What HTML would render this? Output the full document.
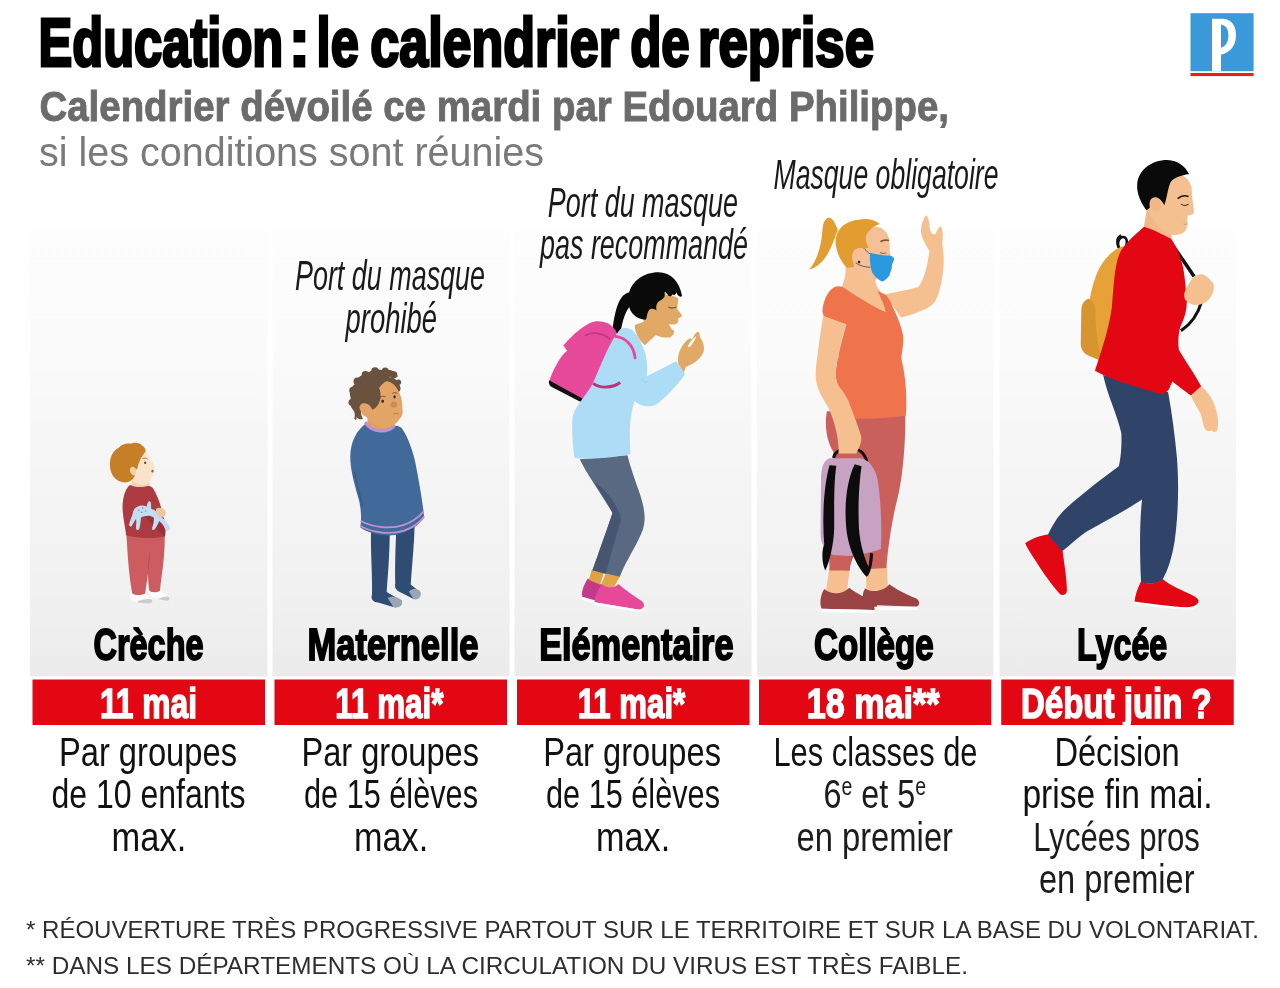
<!DOCTYPE html>
<html lang="fr"><head><meta charset="utf-8"><title>Education : le calendrier de reprise</title>
<style>
html,body{margin:0;padding:0;background:#fff;}
body{width:1280px;height:988px;overflow:hidden;font-family:"Liberation Sans",sans-serif;}
svg{display:block;position:absolute;left:0;top:0;}
text{font-family:"Liberation Sans",sans-serif;white-space:pre;}
</style></head><body>
<svg width="1280" height="988" viewBox="0 0 1280 988" style="will-change:transform">
<defs>
<linearGradient id="cg" x1="0" y1="0" x2="0" y2="1">
<stop offset="0" stop-color="#fdfdfd"/><stop offset="0.25" stop-color="#fbfbfb"/><stop offset="0.5" stop-color="#f6f6f6"/><stop offset="0.85" stop-color="#f0f0f0"/><stop offset="1" stop-color="#ebebeb"/>
</linearGradient>
</defs>
<rect width="1280" height="988" fill="#fff"/>

<rect x="30" y="229" width="237.5" height="447.5" fill="url(#cg)"/>
<rect x="272.5" y="229" width="237.0" height="447.5" fill="url(#cg)"/>
<rect x="514.5" y="229" width="237.0" height="447.5" fill="url(#cg)"/>
<rect x="757" y="229" width="236.5" height="447.5" fill="url(#cg)"/>
<rect x="999.5" y="229" width="236.5" height="447.5" fill="url(#cg)"/>
<rect x="32.5" y="679.5" width="232.5" height="45.5" fill="#e30613"/>
<rect x="274.5" y="679.5" width="232.5" height="45.5" fill="#e30613"/>
<rect x="517" y="679.5" width="232.5" height="45.5" fill="#e30613"/>
<rect x="759" y="679.5" width="232.25" height="45.5" fill="#e30613"/>
<rect x="1001.25" y="679.5" width="232.5" height="45.5" fill="#e30613"/>
<g id="logo">
<rect x="1190.5" y="13.2" width="63.1" height="58" fill="#3a9ad9"/>
<rect x="1190.5" y="73" width="63.1" height="3.1" fill="#e2231a"/>
<path d="M1212 71.2 V18.7 H1222 C1231 18.7 1236 25 1236 35 C1236 46 1230 52.5 1221 54.8 V71.2 Z M1221 24.6 V47.8 C1226 46 1228.4 41.5 1228.4 35.5 C1228.4 29.5 1226 25.5 1221 24.6 Z" fill="#fff" fill-rule="evenodd"/>
</g>
<g id="fig1" transform="translate(90,430) scale(0.18215)">
<!-- socks -->
<path d="M225,890 C212,912 218,938 248,946 L322,952 C350,950 348,932 330,922 L298,892 Z" fill="#fbfbfc"/>
<path d="M262,940 C290,930 320,925 338,930 C348,942 340,952 322,952 L262,948 Z" fill="#c9ccd1"/>
<path d="M322,880 C316,902 330,918 352,924 L418,938 C442,936 442,920 426,910 L384,878 Z" fill="#fcfcfd"/>
<path d="M372,928 C395,915 420,910 432,916 C442,926 436,938 418,938 Z" fill="#c9ccd1"/>
<!-- pants -->
<path d="M200,572 C205,660 212,790 232,898 C255,910 285,908 302,898 C308,860 314,820 318,790 C320,830 322,860 326,884 C345,894 368,892 384,882 C392,800 412,700 410,585 Z" fill="#cd5c60"/>
<path d="M318,790 C316,740 322,700 330,660 C328,720 322,760 318,790 Z" fill="#b84a50"/>
<!-- shirt -->
<path d="M215,305 C190,330 174,390 180,450 C184,500 196,545 198,578 C260,596 350,596 412,584 C420,540 412,500 400,470 C392,420 372,360 345,318 C320,296 250,292 215,305 Z" fill="#ad3941"/>
<path d="M300,470 C340,475 380,500 405,530 C412,555 412,570 410,584 C380,560 340,520 300,470 Z" fill="#9b3038"/>
<!-- neck/face -->
<path d="M232,262 L228,306 C260,318 305,315 330,300 L318,268 Z" fill="#f3d3b4"/>
<path d="M262,118 C295,100 322,128 334,168 L354,196 C360,208 352,216 345,218 C354,236 346,252 336,262 C336,284 318,298 296,300 C262,300 228,285 220,245 C214,200 235,140 262,118 Z" fill="#fae3cb"/>
<!-- hair -->
<path d="M222,76 C200,68 172,80 158,97 C130,108 106,150 110,192 C108,242 142,288 192,288 C222,288 240,268 246,250 L250,214 C254,218 258,216 260,212 C262,196 268,182 274,168 C282,148 292,132 306,116 C304,100 296,90 287,86 C272,70 245,66 222,76 Z" fill="#c67f26"/>
<path d="M222,208 C214,226 224,246 246,250 C254,236 254,220 250,212 C244,200 230,198 222,208 Z" fill="#f0cfae"/>
<!-- face details -->
<path d="M288,158 C298,152 310,154 316,160" stroke="#a86a2a" stroke-width="5" fill="none"/>
<ellipse cx="303" cy="180" rx="6" ry="7" fill="#3b4a5a"/>
<ellipse cx="343" cy="226" rx="6" ry="8" fill="#b5474c"/>
<!-- toy -->
<path d="M235,455 C240,420 280,405 312,420 C312,400 322,388 330,392 C338,398 334,418 336,432 C360,440 378,455 390,478 C410,490 432,515 440,540 C440,556 422,558 414,546 C405,525 392,508 380,500 C372,520 362,540 352,548 C340,552 338,540 344,528 C350,510 352,495 350,480 C330,465 300,470 280,480 C278,500 276,525 270,545 C262,552 252,548 252,536 C254,515 256,498 252,488 C244,500 236,515 228,528 C218,534 212,524 216,512 C222,492 230,475 235,455 Z" fill="#c3ddf2"/>
<circle cx="268" cy="440" r="4" fill="#5b86b5"/><circle cx="290" cy="428" r="4" fill="#5b86b5"/><circle cx="284" cy="452" r="4" fill="#5b86b5"/><circle cx="305" cy="445" r="3.5" fill="#5b86b5"/>
<!-- hand -->
<path d="M362,432 C380,420 405,428 414,446 C420,464 408,482 392,480 C376,478 360,462 362,432 Z" fill="#eec3a0"/>
</g>

<g id="fig2" transform="translate(330,360) scale(0.25316)">
<!-- legs -->
<path d="M162,675 C160,760 168,850 166,930 C176,946 200,950 222,940 C228,860 236,760 236,680 Z" fill="#2f4c73"/>
<path d="M262,670 C258,750 256,830 258,890 C272,910 300,915 318,905 C322,830 332,740 334,660 Z" fill="#2f4c73"/>
<path d="M166,925 C160,945 170,955 190,958 L250,976 C275,980 290,965 282,950 L222,915 Z" fill="#2f4c73"/>
<path d="M228,940 C245,930 270,935 284,950 C290,968 272,982 250,976 Z" fill="#9aa6b3"/>
<path d="M258,885 C254,900 262,912 280,918 L330,944 C350,948 362,930 355,915 L316,885 Z" fill="#2f4c73"/>
<path d="M312,915 C325,900 345,900 356,914 C364,932 350,950 330,944 Z" fill="#9aa6b3"/>
<!-- neck -->
<path d="M150,215 L146,262 C180,285 225,285 252,266 L262,235 Z" fill="#dfa062"/>
<!-- sweater -->
<path d="M140,252 C105,280 82,320 80,380 C80,440 100,500 116,560 C124,600 124,630 120,662 C160,690 220,698 262,690 C310,680 350,655 372,622 C366,560 352,480 336,400 C322,340 300,290 282,268 C270,258 258,258 250,262 C222,282 170,280 140,252 Z" fill="#41699a"/>
<path d="M96,440 C104,480 118,530 128,580" stroke="#355a86" stroke-width="5" fill="none"/>
<!-- stripes -->
<path d="M121,636 C170,662 240,668 290,652 C325,640 352,620 370,598" stroke="#c58fd2" stroke-width="7" fill="none"/>
<path d="M120,656 C170,684 240,690 292,674 C328,662 354,642 372,618" stroke="#c58fd2" stroke-width="7" fill="none"/>
<!-- collar -->
<path d="M142,250 C165,285 225,290 252,262" stroke="#bf8fd0" stroke-width="13" fill="none" stroke-linecap="round"/>
<!-- face -->
<path d="M215,76 C245,78 268,100 274,128 C282,148 288,170 286,196 C290,210 284,226 272,236 C262,256 235,268 205,262 C170,255 145,235 135,205 C130,160 160,90 215,76 Z" fill="#e2a565"/>
<ellipse cx="252" cy="176" rx="13" ry="12" fill="#c88d5a"/>
<!-- hair -->
<path d="M218,76 C235,60 262,70 272,95 C282,110 280,120 272,126 C262,100 240,84 222,84 C205,95 190,110 186,130 C178,150 180,170 176,186 C160,180 140,178 128,190 C120,205 122,220 130,232 C120,238 108,232 104,222 C108,236 102,240 96,232 C100,215 98,205 92,198 C80,185 76,165 82,150 C74,130 82,108 96,98 C100,75 120,58 142,56 C160,38 190,32 212,42 C235,32 262,45 268,66 C258,62 235,62 218,76 Z" fill="#6b523f"/>
<circle cx="90" cy="120" r="14" fill="#6b523f"/><circle cx="86" cy="168" r="13" fill="#6b523f"/><circle cx="108" cy="84" r="15" fill="#6b523f"/><circle cx="140" cy="58" r="15" fill="#6b523f"/><circle cx="178" cy="44" r="15" fill="#6b523f"/><circle cx="218" cy="44" r="14" fill="#6b523f"/><circle cx="252" cy="58" r="14" fill="#6b523f"/><circle cx="270" cy="88" r="11" fill="#6b523f"/>
<ellipse cx="150" cy="140" rx="50" ry="60" fill="#6b523f"/>
<path d="M186,110 C172,130 180,150 170,170 C182,160 190,140 186,110 Z" fill="#6b523f"/>
<!-- ear -->
<path d="M118,195 C112,180 125,168 142,172 C158,176 168,190 172,215 C160,228 140,228 128,215 Z" fill="#e2a565"/>
<!-- eyes -->
<ellipse cx="208" cy="163" rx="5" ry="7" fill="#2a2a38"/>
<ellipse cx="255" cy="146" rx="4.5" ry="6.5" fill="#2a2a38"/>
<path d="M196,148 C204,142 214,142 220,146" stroke="#5a4030" stroke-width="3" fill="none"/>
<path d="M246,132 C252,128 260,128 266,132" stroke="#5a4030" stroke-width="3" fill="none"/>
<path d="M250,214 C258,210 266,210 272,214" stroke="#b07848" stroke-width="3" fill="none"/>
</g>

<g id="fig3" transform="translate(540,265) scale(0.18218)">
<!-- lower body: coordinates offset by 905.7 -->
<g transform="translate(0,905.7)">
<!-- back shoe -->
<path d="M262,815 C240,850 225,890 232,915 L300,935 L340,850 Z" fill="#c43a8a"/>
<path d="M228,915 L300,938 L296,952 L232,932 Z" fill="#fff"/>
<!-- ankles -->
<path d="M285,765 L268,822 L330,850 L350,785 Z" fill="#e0a245"/>
<path d="M362,785 L335,850 L400,875 L440,800 Z" fill="#e2a648"/>
<!-- pants -->
<path d="M218,160 C250,230 330,340 398,455 C370,540 320,680 288,770 L438,805 C470,720 540,620 565,545 C585,480 570,420 548,350 C520,270 495,200 480,138 Z" fill="#5a6982"/>
<path d="M398,455 C420,465 438,475 445,490 C420,580 385,690 362,790 L288,770 C320,680 370,540 398,455 Z" fill="#475670"/>
<path d="M300,290 C340,350 375,410 398,455 C420,465 438,475 445,490 C430,420 370,330 300,290 Z" fill="#475670"/>
<!-- front shoe -->
<path d="M338,845 C318,880 300,915 300,945 L540,985 C575,985 578,955 560,940 C520,915 470,880 430,845 C410,870 370,870 338,845 Z" fill="#e8489a"/>
<path d="M298,945 L545,986 C560,988 570,980 572,972 L575,985 C570,996 555,1000 540,998 L296,960 Z" fill="#fff"/>
</g>
<!-- ponytail -->
<path d="M490,150 C440,160 415,230 400,340 C405,365 425,385 440,380 C455,300 470,230 520,210 Z" fill="#0a0a0a"/>
<!-- backpack -->
<path d="M130,440 C180,380 250,320 300,310 C350,305 400,320 425,380 C435,395 430,410 420,425 C380,500 300,640 240,745 L50,640 C70,580 110,500 150,470 Z" fill="#e84a9b"/>
<path d="M50,632 L242,738 L232,748 C225,752 215,748 205,742 L62,668 C50,660 46,645 50,632 Z" fill="#111"/>
<path d="M245,388 C290,365 345,370 385,408" stroke="#c0387f" stroke-width="9" fill="none"/>
<path d="M130,440 L150,470" stroke="#d0408c" stroke-width="4" fill="none"/>
<!-- shirt body -->
<path d="M440,352 C380,420 330,560 290,650 C250,720 190,780 180,830 C172,900 180,1000 190,1060 C300,1070 420,1055 497,1038 C490,940 488,830 520,745 C560,720 600,640 585,520 C580,470 545,400 510,360 C490,345 460,342 440,352 Z" fill="#acdcf6"/>
<!-- arm -->
<path d="M520,430 C560,500 560,580 560,625 L748,528 L796,598 C770,640 700,720 640,765 C600,790 540,770 520,745 C480,660 470,520 520,430 Z" fill="#acdcf6"/>
<path d="M560,625 C565,640 575,648 590,640" stroke="#8fc6e8" stroke-width="4" fill="none"/>
<!-- straps -->
<path d="M415,392 C470,400 515,440 522,510" stroke="#e84a9b" stroke-width="16" fill="none" stroke-linecap="round"/>
<path d="M292,650 C330,680 400,675 440,645" stroke="#b8357a" stroke-width="16" fill="none"/>
<!-- neck + face -->
<path d="M520,330 C520,370 540,410 575,440 L640,380 L600,300 Z" fill="#dfa763"/>
<path d="M600,190 C640,160 720,150 760,185 L752,240 L778,275 C780,285 770,292 758,292 C762,305 758,318 750,322 L735,355 C740,375 725,400 700,398 C660,400 610,380 575,340 C560,290 570,220 600,190 Z" fill="#e1a965"/>
<path d="M708,322 C726,330 745,328 756,320 C752,342 742,358 732,360 C722,350 713,337 708,322 Z" fill="#fdfdfd"/>
<path d="M705,232 C718,238 735,238 748,230" stroke="#222" stroke-width="4" fill="none"/>
<!-- hair -->
<path d="M488,160 C500,90 570,40 650,40 C720,42 765,90 780,170 C770,180 755,170 748,150 C745,165 735,170 728,160 C720,175 705,175 700,160 L688,150 C690,170 680,185 660,195 C640,205 635,225 640,250 C630,240 610,235 598,248 C585,265 590,285 580,300 C550,300 510,280 495,245 C482,215 482,185 488,160 Z" fill="#0a0a0a"/>
<path d="M683,150 L690,146 L694,178 L686,176 Z" fill="#e1a965"/>
<!-- hand -->
<path d="M760,545 C750,500 770,450 800,420 C815,400 830,400 835,410 C845,385 860,362 870,368 C880,375 875,395 880,400 C895,420 905,450 898,475 C888,510 850,540 800,560 L790,590 Z" fill="#e1a965"/>
<path d="M810,448 C820,425 838,404 858,390 C852,410 838,432 822,452 Z" fill="#fbfbfb"/>
</g>

<g id="fig4">
<!-- lower body -->
<g transform="translate(790,360) scale(0.26316)">
<!-- ankles -->
<path d="M150,790 L135,885 L215,885 L228,790 Z" fill="#f5bf90"/>
<path d="M288,780 L290,880 L372,872 L368,780 Z" fill="#f5bf90"/>
<!-- shoes -->
<path d="M130,870 C115,895 112,925 120,945 L320,950 C335,945 335,930 320,918 C290,905 250,885 225,865 C200,890 160,895 130,870 Z" fill="#9a4345"/>
<path d="M118,945 L322,950 L322,962 L122,958 Z" fill="#fff"/>
<path d="M285,868 C272,890 275,915 285,930 L480,938 C498,930 492,912 478,905 C440,890 400,870 378,852 C355,880 310,885 285,868 Z" fill="#9a4345"/>
<path d="M320,938 L482,938 L482,950 L322,950 Z" fill="#fff"/>
<!-- pants -->
<path d="M140,195 C130,250 140,310 165,350 C150,500 148,700 150,800 L226,800 C232,760 240,740 252,740 C268,745 280,770 286,795 L366,790 C372,720 385,620 405,540 C430,450 440,300 438,205 Z" fill="#c9605c"/>
<path d="M226,800 C232,760 240,740 252,740 C268,745 280,770 286,795 L280,740 L235,740 Z" fill="#b04e4c"/>
<!-- shirt bottom -->
<path d="M181,-5 C172,40 172,70 180,90 C195,130 225,180 245,222 C310,225 380,220 440,212 C446,150 440,60 423,-5 Z" fill="#f0744b"/>
<!-- hanging arm -->
<path d="M165,372 C172,345 195,335 228,335 C262,335 282,350 292,385" stroke="#111" stroke-width="11" fill="none"/>
<path d="M103,-5 C96,40 96,70 104,100 C115,135 135,160 150,190 C170,240 185,290 185,355 L252,355 C262,335 275,310 270,288 C255,240 235,190 222,155 C205,120 185,100 180,90 C172,70 172,40 181,-5 Z" fill="#f5bf90"/>
<!-- bag -->
<path d="M150,373 C128,380 118,408 118,455 L116,660 C116,700 135,725 165,742 C210,750 280,742 345,718 C350,640 345,520 332,450 C322,408 300,380 270,373 Z" fill="#c7a2c2"/>
<path d="M165,742 C170,760 172,780 170,795 L226,800 L232,745 Z" fill="#c9605c"/>
<path d="M176,402 C166,470 168,560 168,640 C166,700 150,770 134,800 C120,770 120,725 130,700 C122,600 128,480 150,400 Z" fill="#0c0c0c"/>
<path d="M272,404 C262,470 258,560 262,640 C266,700 284,755 298,785 C302,768 302,750 304,732 L316,736 C314,772 306,812 292,824 C258,790 222,720 214,640 C206,560 214,460 246,396 Z" fill="#0c0c0c"/>
</g>
<!-- upper body -->
<g transform="translate(790,200) scale(0.18218)">
<!-- raised arm -->
<path d="M520,520 C600,500 670,490 705,478 C735,440 755,360 765,280 C740,240 720,200 718,170 C722,130 735,95 745,85 C760,90 765,120 768,160 C775,185 790,195 800,185 C808,165 815,148 825,145 C840,150 842,200 835,240 C845,290 848,360 835,430 C825,490 810,540 790,565 C760,600 680,625 610,645 Z" fill="#f5bf90"/>
<!-- neck -->
<path d="M305,360 C310,420 290,460 280,490 L535,630 L500,505 C475,480 465,455 470,430 Z" fill="#f5bf90"/>
<!-- hanging arm upper -->
<path d="M185,620 C170,710 155,800 148,884 L262,884 C270,810 290,740 310,680 Z" fill="#f5bf90"/>
<!-- shirt -->
<path d="M240,480 C205,500 180,560 178,610 C180,630 190,640 200,642 L310,682 C290,750 270,820 262,884 L611,884 C612,840 626,790 620,740 C610,690 590,640 565,590 C555,560 540,535 525,520 L480,500 C500,540 520,580 525,615 C480,600 350,520 290,478 C270,470 255,472 240,480 Z" fill="#f0744b"/>
<!-- head -->
<path d="M430,160 C470,130 530,150 545,215 L548,290 L555,300 L470,440 C430,445 360,420 320,370 L340,280 Z" fill="#f5c096"/>
<!-- hair -->
<path d="M262,165 C250,130 235,100 215,98 C190,100 180,130 178,170 C172,250 150,330 105,382 C150,372 190,330 215,280 C230,250 245,215 252,190 Z" fill="#e29c2f"/>
<path d="M250,235 C250,160 300,110 400,105 C440,102 475,115 492,132 C455,145 425,170 415,205 C418,235 425,255 432,262 C410,268 395,262 375,265 C350,270 338,295 342,325 C345,345 355,358 350,368 L312,372 C280,340 255,290 250,235 Z" fill="#e29c2f"/>
<!-- ear -->
<path d="M345,300 C345,275 365,262 390,268 C410,275 420,300 415,330 C410,355 385,365 365,355 C350,345 345,320 345,300 Z" fill="#f5c096"/>
<circle cx="379" cy="341" r="7" fill="#222"/>
<!-- mask -->
<path d="M440,297 C425,285 412,272 405,265" stroke="#2a3a4a" stroke-width="4" fill="none"/>
<path d="M442,370 C410,368 380,360 360,345" stroke="#2a3a4a" stroke-width="4" fill="none"/>
<path d="M440,290 C480,300 520,305 545,305 C560,308 572,315 572,325 C565,345 555,360 560,372 C555,390 545,405 548,412 C535,430 520,445 505,448 C485,440 465,420 452,400 C440,370 436,330 440,290 Z" fill="#2b99dd"/>
<!-- eye -->
<path d="M495,288 C505,294 518,295 528,290" stroke="#5a3a20" stroke-width="4" fill="none"/>
<path d="M496,229 C510,220 528,218 543,222" stroke="#7a4a22" stroke-width="8" fill="none"/>
</g>
</g>

<g id="fig5">
<!-- lower body -->
<g transform="translate(1010,370) scale(0.25303)">
<!-- back shoe -->
<path d="M60,685 C85,665 125,652 152,650 L208,716 C215,770 225,830 225,872 C222,890 208,892 198,886 C165,850 130,800 105,760 C85,730 68,705 60,685 Z" fill="#e30613"/>
<!-- front shoe sole -->
<path d="M490,905 L745,912 C750,930 735,945 715,948 C640,945 560,935 495,925 Z" fill="#fff"/>
<!-- pants -->
<path d="M368,20 C385,100 425,180 440,250 C442,300 438,350 430,380 C390,410 340,445 300,480 C250,520 200,560 178,600 C165,620 155,640 150,652 L206,716 C240,690 270,660 300,640 C370,600 450,560 522,512 C512,600 512,720 518,838 C545,850 580,845 602,830 C625,790 640,740 650,680 C665,580 668,450 660,350 C652,260 640,170 625,88 Z" fill="#2f4468"/>
<!-- front shoe -->
<path d="M518,835 C505,860 495,890 492,915 C560,925 640,935 700,938 C730,935 748,925 745,910 C740,898 720,890 700,880 C665,865 625,845 603,826 C580,845 545,850 518,835 Z" fill="#e30613"/>
<!-- hanging hand -->
<path d="M716,102 L756,64 C785,90 805,120 812,150 C822,180 826,215 818,240 C810,248 800,245 796,238 C788,245 775,240 770,232 C762,215 760,190 752,170 C742,150 725,130 716,102 Z" fill="#f5c090"/>
</g>
<!-- upper body -->
<g transform="translate(1060,150) scale(0.25303)">
<!-- backpack -->
<path d="M242,338 C225,345 222,365 232,385" stroke="#111" stroke-width="10" fill="none"/>
<path d="M232,385 C222,350 250,332 262,352 C268,365 262,380 258,392" stroke="#111" stroke-width="10" fill="none" stroke-linecap="round"/>
<path d="M245,380 C200,400 165,440 145,490 C125,540 115,590 112,640 L108,790 C120,815 145,828 170,832 L300,700 L300,400 Z" fill="#e6a236"/>
<path d="M112,588 C92,595 84,615 84,640 L82,770 C84,790 95,805 112,812 C130,820 150,828 165,832 C150,780 140,700 140,640 C138,610 128,592 112,588 Z" fill="#d7952f"/>
<!-- strap -->
<path d="M440,372 C470,410 500,455 530,500" stroke="#111" stroke-width="14" fill="none"/>
<path d="M560,598 C545,650 512,692 478,714" stroke="#111" stroke-width="12" fill="none"/>
<!-- neck -->
<path d="M345,225 L330,310 L440,355 L445,300 Z" fill="#f2b888"/>
<!-- sweater -->
<path d="M332,303 C290,340 250,375 235,410 C215,460 212,540 205,620 C195,700 165,790 138,872 C180,895 230,915 282,930 C330,945 370,958 402,965 C420,960 430,950 434,938 L444,915 C470,935 495,955 517,970 L558,934 C535,890 500,840 470,790 C465,760 468,730 475,700 C495,660 505,620 500,580 C495,520 490,470 480,440 C470,400 455,375 440,352 C410,335 370,315 332,303 Z" fill="#e30613"/>
<!-- head -->
<path d="M420,110 C460,80 510,100 520,150 L524,200 L530,245 C528,255 515,258 505,258 L502,290 C505,300 498,318 490,325 C470,338 445,338 425,330 C390,310 360,270 350,230 C350,180 380,130 420,110 Z" fill="#f5c090"/>
<!-- hair -->
<path d="M305,135 C310,80 360,40 425,40 C465,42 495,65 510,95 C480,100 450,110 438,125 C425,150 425,185 412,218 C405,205 395,190 380,188 C362,188 352,205 355,228 L342,238 C320,210 302,170 305,135 Z" fill="#0a0a0a"/>
<!-- ear -->
<path d="M355,215 C352,195 365,185 380,188 C395,192 402,210 398,228 C392,245 372,245 362,235 Z" fill="#f2b888"/>
<!-- eye -->
<path d="M478,214 C488,220 500,220 508,214" stroke="#3a2a20" stroke-width="4" fill="none"/>
<path d="M465,192 C478,180 494,178 508,184" stroke="#1a1515" stroke-width="6" fill="none"/>
<path d="M488,292 C495,296 502,294 505,290" stroke="#d08a70" stroke-width="3" fill="none"/>
<!-- fist -->
<path d="M509,530 C515,515 525,505 533,500 C545,492 555,490 563,491 C578,498 590,508 597,517 C604,524 608,530 608,537 C610,552 604,566 597,578 C590,590 580,600 570,605 C556,612 542,614 529,612 C515,608 503,600 495,592 C490,582 490,572 492,564 C496,552 502,540 509,530 Z" fill="#f5c090"/>
</g>
</g>

<g id="txt">
<text x="38.45" y="66.3" textLength="244.84" lengthAdjust="spacingAndGlyphs" font-size="68.5" font-weight="bold" stroke="#000" stroke-width="3.0" stroke-linejoin="miter" stroke-miterlimit="3" fill="#000">Education</text>
<text x="288.69" y="66.3" textLength="21.27" lengthAdjust="spacingAndGlyphs" font-size="68.5" font-weight="bold" stroke="#000" stroke-width="3.0" stroke-linejoin="miter" stroke-miterlimit="3" fill="#000">:</text>
<text x="316.62" y="66.3" textLength="42.19" lengthAdjust="spacingAndGlyphs" font-size="68.5" font-weight="bold" stroke="#000" stroke-width="3.0" stroke-linejoin="miter" stroke-miterlimit="3" fill="#000">le</text>
<text x="370.25" y="66.3" textLength="248.75" lengthAdjust="spacingAndGlyphs" font-size="68.5" font-weight="bold" stroke="#000" stroke-width="3.0" stroke-linejoin="miter" stroke-miterlimit="3" fill="#000">calendrier</text>
<text x="630.21" y="66.3" textLength="59.56" lengthAdjust="spacingAndGlyphs" font-size="68.5" font-weight="bold" stroke="#000" stroke-width="3.0" stroke-linejoin="miter" stroke-miterlimit="3" fill="#000">de</text>
<text x="697.96" y="66.3" textLength="176.05" lengthAdjust="spacingAndGlyphs" font-size="68.5" font-weight="bold" stroke="#000" stroke-width="3.0" stroke-linejoin="miter" stroke-miterlimit="3" fill="#000">reprise</text>
<text x="39.49" y="121.2" textLength="909.51" lengthAdjust="spacingAndGlyphs" font-size="42.5" font-weight="bold" stroke="#6b6b6b" stroke-width="0.9" stroke-linejoin="miter" stroke-miterlimit="3" fill="#6b6b6b">Calendrier dévoilé ce mardi par Edouard Philippe,</text>
<text x="39.0" y="166" textLength="505.01" lengthAdjust="spacingAndGlyphs" font-size="40"  fill="#7a7a7a">si les conditions sont réunies</text>
<text x="93.48" y="659.5" textLength="110.04" lengthAdjust="spacingAndGlyphs" font-size="44.5" font-weight="bold" stroke="#000" stroke-width="1.8" stroke-linejoin="miter" stroke-miterlimit="3" fill="#000">Crèche</text>
<text x="307.47" y="659.5" textLength="171.05" lengthAdjust="spacingAndGlyphs" font-size="44.5" font-weight="bold" stroke="#000" stroke-width="1.8" stroke-linejoin="miter" stroke-miterlimit="3" fill="#000">Maternelle</text>
<text x="539.23" y="659.5" textLength="194.29" lengthAdjust="spacingAndGlyphs" font-size="44.5" font-weight="bold" stroke="#000" stroke-width="1.8" stroke-linejoin="miter" stroke-miterlimit="3" fill="#000">Elémentaire</text>
<text x="813.99" y="659.5" textLength="119.78" lengthAdjust="spacingAndGlyphs" font-size="44.5" font-weight="bold" stroke="#000" stroke-width="1.8" stroke-linejoin="miter" stroke-miterlimit="3" fill="#000">Collège</text>
<text x="1076.99" y="659.5" textLength="90.29" lengthAdjust="spacingAndGlyphs" font-size="44.5" font-weight="bold" stroke="#000" stroke-width="1.8" stroke-linejoin="miter" stroke-miterlimit="3" fill="#000">Lycée</text>
<text x="99.97" y="717.8" textLength="97.1" lengthAdjust="spacingAndGlyphs" font-size="42.3" font-weight="bold" stroke="#fff" stroke-width="1.5" stroke-linejoin="miter" stroke-miterlimit="3" fill="#fff">11 mai</text>
<text x="335.25" y="717.8" textLength="108.25" lengthAdjust="spacingAndGlyphs" font-size="42.3" font-weight="bold" stroke="#fff" stroke-width="1.5" stroke-linejoin="miter" stroke-miterlimit="3" fill="#fff">11 mai*</text>
<text x="577.73" y="717.8" textLength="107.51" lengthAdjust="spacingAndGlyphs" font-size="42.3" font-weight="bold" stroke="#fff" stroke-width="1.5" stroke-linejoin="miter" stroke-miterlimit="3" fill="#fff">11 mai*</text>
<text x="806.73" y="717.8" textLength="132.76" lengthAdjust="spacingAndGlyphs" font-size="42.3" font-weight="bold" stroke="#fff" stroke-width="1.5" stroke-linejoin="miter" stroke-miterlimit="3" fill="#fff">18 mai**</text>
<text x="1020.96" y="717.8" textLength="190.8" lengthAdjust="spacingAndGlyphs" font-size="42.3" font-weight="bold" stroke="#fff" stroke-width="1.5" stroke-linejoin="miter" stroke-miterlimit="3" fill="#fff">Début juin ?</text>
<text x="58.93" y="765.5" textLength="178.09" lengthAdjust="spacingAndGlyphs" font-size="41.5"  fill="#111">Par groupes</text>
<text x="51.49" y="808" textLength="194.05" lengthAdjust="spacingAndGlyphs" font-size="41.5"  fill="#111">de 10 enfants</text>
<text x="111.57" y="850.5" textLength="74.66" lengthAdjust="spacingAndGlyphs" font-size="41.5"  fill="#111">max.</text>
<text x="301.44" y="765.5" textLength="177.58" lengthAdjust="spacingAndGlyphs" font-size="41.5"  fill="#111">Par groupes</text>
<text x="303.99" y="808" textLength="174.02" lengthAdjust="spacingAndGlyphs" font-size="41.5"  fill="#111">de 15 élèves</text>
<text x="354.11" y="850.5" textLength="74.12" lengthAdjust="spacingAndGlyphs" font-size="41.5"  fill="#111">max.</text>
<text x="543.18" y="765.5" textLength="177.84" lengthAdjust="spacingAndGlyphs" font-size="41.5"  fill="#111">Par groupes</text>
<text x="545.99" y="808" textLength="174.02" lengthAdjust="spacingAndGlyphs" font-size="41.5"  fill="#111">de 15 élèves</text>
<text x="596.11" y="850.5" textLength="74.12" lengthAdjust="spacingAndGlyphs" font-size="41.5"  fill="#111">max.</text>
<text x="773.45" y="765.5" textLength="204.08" lengthAdjust="spacingAndGlyphs" font-size="41.5"  fill="#111">Les classes de</text>
<text x="796.49" y="850.5" textLength="156.52" lengthAdjust="spacingAndGlyphs" font-size="41.5"  fill="#1c1c1c">en premier</text>
<text x="1054.38" y="765.5" textLength="125.23" lengthAdjust="spacingAndGlyphs" font-size="41.5"  fill="#111">Décision</text>
<text x="1022.43" y="808" textLength="190.14" lengthAdjust="spacingAndGlyphs" font-size="41.5"  fill="#111">prise fin mai.</text>
<text x="1033.18" y="850.5" textLength="166.59" lengthAdjust="spacingAndGlyphs" font-size="41.5"  fill="#1c1c1c">Lycées pros</text>
<text x="1038.99" y="893" textLength="155.52" lengthAdjust="spacingAndGlyphs" font-size="41.5"  fill="#1c1c1c">en premier</text>
<text x="823.45" y="808" textLength="102.59" lengthAdjust="spacingAndGlyphs" font-size="41.5"  fill="#1c1c1c">6<tspan font-size="25" dy="-13">e</tspan><tspan dy="13"> et 5</tspan><tspan font-size="25" dy="-13">e</tspan></text>
<text x="294.99" y="289.7" textLength="190.01" lengthAdjust="spacingAndGlyphs" font-size="42" font-style="italic" fill="#1a1a1a">Port du masque</text>
<text x="345.5" y="332.8" textLength="91.52" lengthAdjust="spacingAndGlyphs" font-size="42" font-style="italic" fill="#1a1a1a">prohibé</text>
<text x="547.73" y="216.9" textLength="190.27" lengthAdjust="spacingAndGlyphs" font-size="42" font-style="italic" fill="#1a1a1a">Port du masque</text>
<text x="540.0" y="259" textLength="208.0" lengthAdjust="spacingAndGlyphs" font-size="42" font-style="italic" fill="#1a1a1a">pas recommandé</text>
<text x="773.48" y="189" textLength="225.03" lengthAdjust="spacingAndGlyphs" font-size="42" font-style="italic" fill="#1a1a1a">Masque obligatoire</text>
<text x="26.0" y="937.7" textLength="1233.01" lengthAdjust="spacingAndGlyphs" font-size="23"  fill="#2e2e2e">* RÉOUVERTURE TRÈS PROGRESSIVE PARTOUT SUR LE TERRITOIRE ET SUR LA BASE DU VOLONTARIAT.</text>
<text x="26.0" y="974" textLength="942.01" lengthAdjust="spacingAndGlyphs" font-size="23"  fill="#2e2e2e">** DANS LES DÉPARTEMENTS OÙ LA CIRCULATION DU VIRUS EST TRÈS FAIBLE.</text>
</g>
</svg></body></html>
